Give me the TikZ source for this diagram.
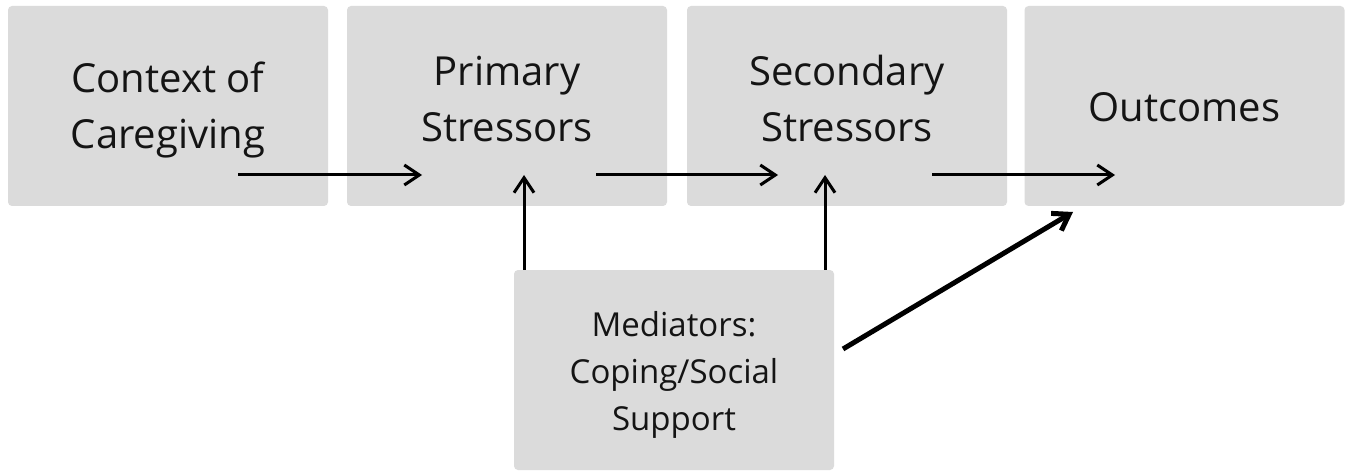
\documentclass[tikz,border=0pt]{standalone}
\usepackage{fontspec}
\setmainfont{Open Sans}
\usepackage{xcolor}
\usetikzlibrary{arrows.meta}
\definecolor{boxgray}{RGB}{219,219,219}
\definecolor{txtdark}{RGB}{20,20,20}

\begin{document}
\begin{tikzpicture}[x=1pt,y=-1pt,>={Straight Barb[length=15pt,width=20pt]}]
\tikzset{box/.style={fill=boxgray,rounded corners=4pt,minimum width=320pt,minimum height=200pt,inner sep=0pt},
lbl/.style={align=center,anchor=base,inner sep=0pt,text=txtdark,font=\fontsize{40}{56}\selectfont},
medlbl/.style={lbl,font=\fontsize{33}{47}\selectfont},
flow/.style={->,line width=3pt},
bigflow/.style={->,line width=5pt}}
\useasboundingbox(0,0)rectangle(1354,473);
% the five boxes
\node[box](ctx)at(168,106){};
\node[box](prim)at(507,106){};
\node[box](sec)at(847,106){};
\node[box](out)at(1184.5,106){};
\node[box](med)at(674,370){};
% their texts (base = last line)
\node[lbl](ctxtxt)at(168,149){Context of\\Caregiving};
\node[lbl](primtxt)at(507,142){Primary\\Stressors};
\node[lbl](sectxt)at(847,142){Secondary\\Stressors};
\node[lbl](outtxt)at(1184.5,122){Outcomes};
\node[medlbl](medtxt)at(674,430){Mediators:\\Coping/Social\\Support};
% arrow ends
\coordinate(a1)at(238,175);
\coordinate(a2)at(422,175);
\coordinate(b1)at(596,175);
\coordinate(b2)at(778,175);
\coordinate(c1)at(932,175);
\coordinate(c2)at(1115,175);
\coordinate(m1)at(524,175);
\coordinate(m2)at(825,175);
\coordinate(m3)at(1073,212);
\coordinate(s1)at(843,349);
\draw[flow](a1)--(a2);
\draw[flow](b1)--(b2);
\draw[flow](c1)--(c2);
\draw[flow](med.north west-|m1)--(m1);
\draw[flow](med.north west-|m2)--(m2);
\draw[bigflow](s1)--(m3);
\end{tikzpicture}
\end{document}
